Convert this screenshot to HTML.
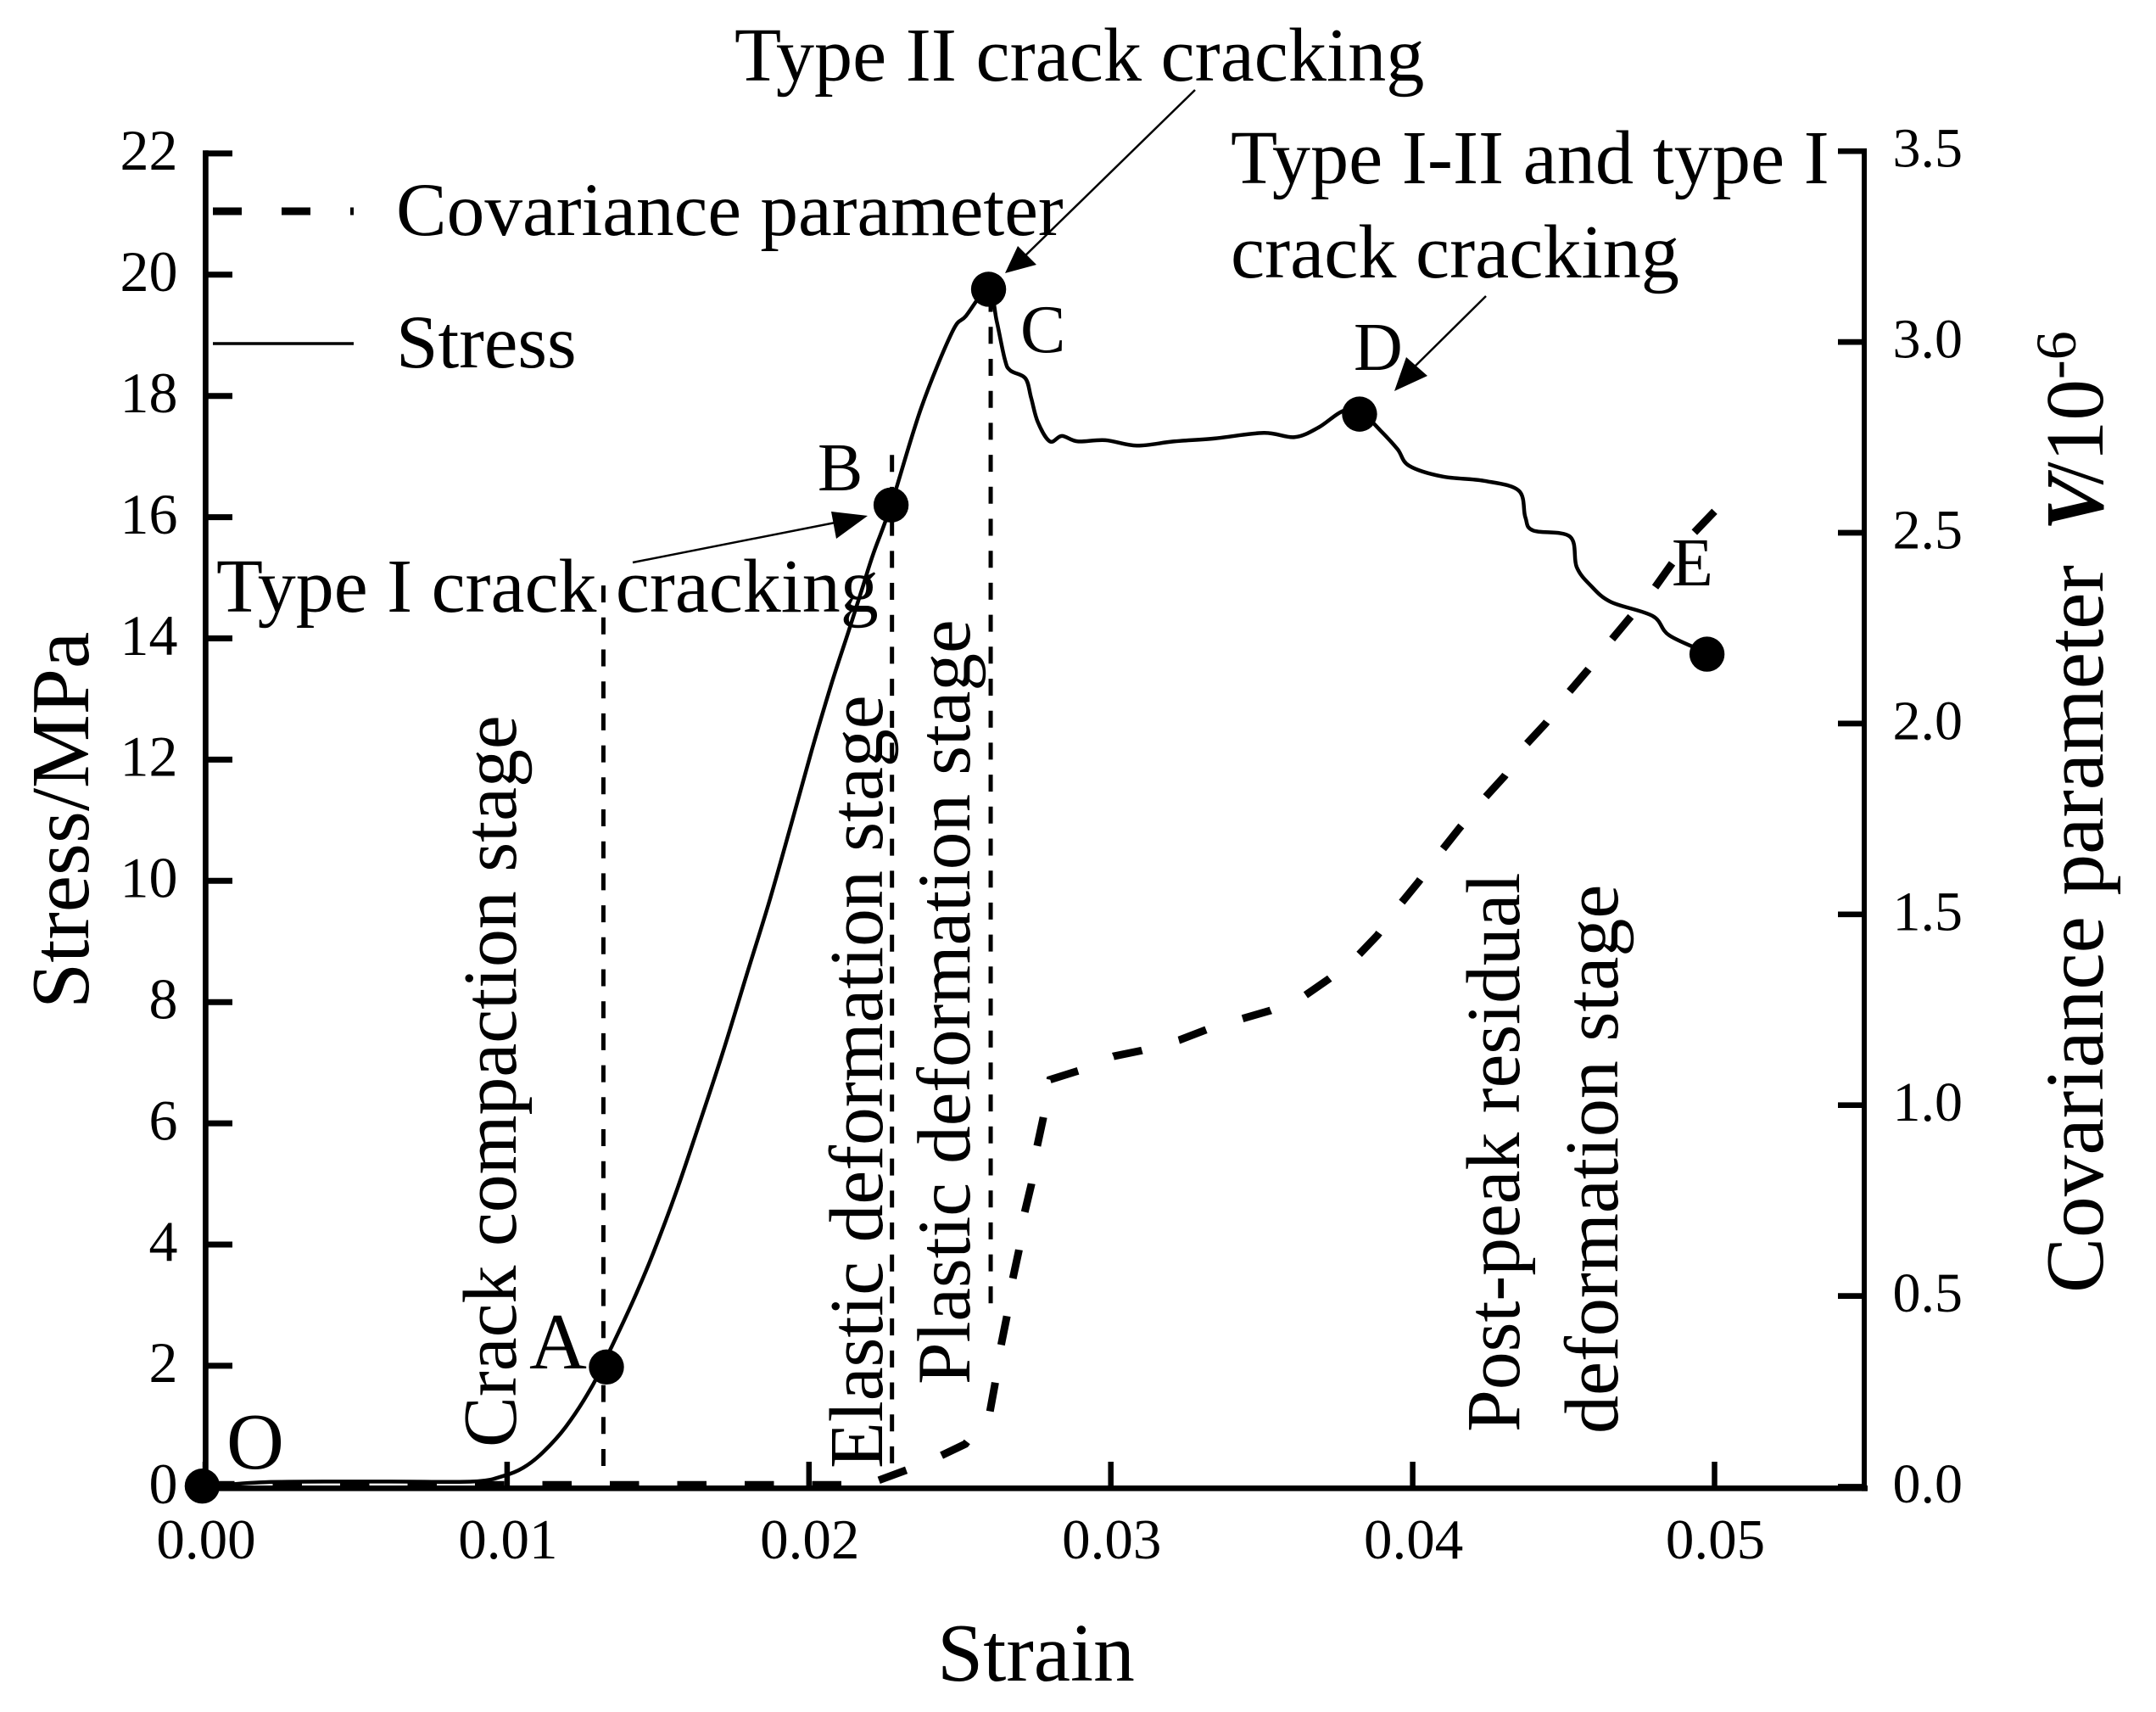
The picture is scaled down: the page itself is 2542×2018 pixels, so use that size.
<!DOCTYPE html>
<html lang="en">
<head>
<meta charset="utf-8">
<title>Stress and covariance parameter versus strain</title>
<style>
html,body{margin:0;padding:0;background:#fff;}
svg{display:block;}
text{font-family:"Liberation Serif",serif;fill:#000;}
</style>
</head>
<body>
<svg id="chart" xmlns="http://www.w3.org/2000/svg" width="2542" height="2018" viewBox="0 0 2542 2018">
  <rect width="2542" height="2018" fill="#fff"/>
  <g id="stages"></g>
  <g id="series"></g>
  <g id="axes"></g>

  <g>
    <line x1="251" y1="249" x2="417" y2="249" stroke="#000" stroke-width="9" stroke-dasharray="34,47"/>
    <text x="467" y="277" font-size="89.4">Covariance parameter</text>
    <line x1="251" y1="405" x2="417" y2="405" stroke="#000" stroke-width="3.5"/>
    <text x="467" y="433" font-size="89">Stress</text>
  </g>

  <g>
    <text x="866" y="95" font-size="90.3">Type II crack cracking</text>
    <text x="255" y="721" font-size="90">Type I crack cracking</text>
    <text x="1451" y="216" font-size="90.3">Type I-II and type I</text>
    <text x="1451" y="327" font-size="90.3">crack cracking</text>

    <line x1="746" y1="663" x2="1000" y2="613" stroke="#000" stroke-width="2.5"/>
    <polygon points="1023,608 980,603 986,635" fill="#000"/>
    <line x1="1409" y1="106" x2="1205" y2="305" stroke="#000" stroke-width="2.5"/>
    <polygon points="1185,322 1222,312 1200,290" fill="#000"/>
    <line x1="1752" y1="349" x2="1665" y2="435" stroke="#000" stroke-width="2.5"/>
    <polygon points="1644,461 1683,443 1658,421" fill="#000"/>

    <text x="267" y="1731" font-size="94">O</text>
    <text x="624" y="1613" font-size="94">A</text>
    <text x="964" y="578" font-size="80">B</text>
    <text x="1203" y="415" font-size="80">C</text>
    <text x="1596" y="436" font-size="80">D</text>
    <text x="1971" y="690" font-size="80">E</text>

    <text transform="translate(608,1706) rotate(-90)" font-size="89.8">Crack compaction stage</text>
    <text transform="translate(1040,1731) rotate(-90)" font-size="89.7">Elastic deformation stage</text>
    <text transform="translate(1143,1632) rotate(-90)" font-size="89.2">Plastic deformation stage</text>
    <text transform="translate(1791,1688) rotate(-90)" font-size="89.6">Post-peak residual</text>
    <text transform="translate(1907,1690) rotate(-90)" font-size="90">deformation stage</text>
  </g>

  <text x="1105" y="1981" font-size="97.5">Strain</text>
  <text transform="translate(104,1189) rotate(-90)" font-size="97.5">Stress/MPa</text>
  <text transform="translate(2479,1524) rotate(-90)" font-size="97.5">Covariance parameter <tspan dx="16" font-weight="bold" font-style="italic">V</tspan><tspan dx="-11">/</tspan>10<tspan dy="-32" font-size="68">-6</tspan></text>
</svg>
<script>
var strainTicks = [0, 0.01, 0.02, 0.03, 0.04, 0.05];
var strainTickLabels = ['0.00', '0.01', '0.02', '0.03', '0.04', '0.05'];
var stressTicks = [0, 2, 4, 6, 8, 10, 12, 14, 16, 18, 20, 22];
var covarianceTicks = [0, 0.5, 1, 1.5, 2, 2.5, 3, 3.5];
var covarianceTickLabels = ['0.0', '0.5', '1.0', '1.5', '2.0', '2.5', '3.0', '3.5'];

var stressStrain = [0, 0.002, 0.006, 0.00885, 0.00986, 0.01054, 0.01118, 0.01194, 0.01278, 0.01343, 0.01419, 0.01484, 0.01559, 0.01632, 0.01714, 0.01793, 0.01871, 0.01942, 0.02009, 0.02074, 0.0213, 0.02178, 0.02214, 0.02272, 0.02371, 0.02474, 0.0252, 0.02595, 0.02622, 0.02649, 0.02667, 0.02717, 0.02736, 0.02758, 0.02798, 0.02838, 0.0289, 0.02982, 0.03086, 0.0321, 0.03346, 0.03507, 0.03609, 0.03688, 0.03768, 0.03825, 0.03893, 0.0395, 0.03988, 0.04099, 0.04235, 0.04351, 0.04373, 0.04399, 0.04521, 0.04543, 0.0459, 0.04657, 0.04795, 0.0485, 0.04977];
var stressValues = [0, 0.08, 0.09, 0.09, 0.18, 0.32, 0.57, 0.99, 1.63, 2.28, 3.09, 3.86, 4.85, 5.92, 7.16, 8.44, 9.7, 10.95, 12.15, 13.24, 14.1, 14.85, 15.41, 16.2, 17.79, 19.05, 19.32, 19.77, 19.23, 18.6, 18.42, 18.29, 17.97, 17.57, 17.25, 17.34, 17.25, 17.27, 17.18, 17.25, 17.3, 17.39, 17.32, 17.48, 17.75, 17.75, 17.43, 17.12, 16.85, 16.67, 16.6, 16.44, 16, 15.78, 15.68, 15.18, 14.87, 14.6, 14.37, 14.05, 13.76];

var covarianceStrain = [0, 0.01, 0.02, 0.0218, 0.02231, 0.02324, 0.02439, 0.02518, 0.02599, 0.02616, 0.02636, 0.02655, 0.02675, 0.02695, 0.02714, 0.02737, 0.02756, 0.02776, 0.02799, 0.02892, 0.03009, 0.03101, 0.03228, 0.03317, 0.03442, 0.03529, 0.03643, 0.03723, 0.03814, 0.03883, 0.03957, 0.04019, 0.04092, 0.04156, 0.04235, 0.04304, 0.04373, 0.0444, 0.04513, 0.04582, 0.04657, 0.04722, 0.04801, 0.04857, 0.04931, 0.05];
var covarianceValues = [0.005, 0.005, 0.005, 0.005, 0.017, 0.044, 0.082, 0.112, 0.195, 0.268, 0.37, 0.444, 0.544, 0.618, 0.717, 0.793, 0.893, 0.966, 1.067, 1.09, 1.128, 1.143, 1.171, 1.198, 1.228, 1.248, 1.287, 1.331, 1.388, 1.445, 1.525, 1.585, 1.663, 1.727, 1.802, 1.862, 1.943, 2.0, 2.078, 2.142, 2.218, 2.28, 2.355, 2.417, 2.499, 2.556];

var keyPointStrain = [-0.0001, 0.01329, 0.02272, 0.02595, 0.03824, 0.04975];
var keyPointStress = [0.015, 1.98, 16.2, 19.76, 17.7, 13.74];
var keyPointNames = ['o', 'a', 'b', 'c', 'd', 'e'];

var stageStrain = [0.01319, 0.02275, 0.02602];
var stageTopStress = [14.93, 17.1, 19.5];
var stageBottomStress = [0.347, 0.39, 3.03];

var NS = 'http://www.w3.org/2000/svg';
function xScale(v) { return 242 + v * 35590; }
function yStress(v) { return 1752.8 - v * 71.45; }
function yCov(v) { return 1752.5 - v * 449.8; }

function make(tag, parent, attrs) {
  var el = document.createElementNS(NS, tag);
  for (var k in attrs) { el.setAttribute(k, attrs[k]); }
  parent.appendChild(el);
  return el;
}
function pathFrom(xs, ys, yFn) {
  var d = '';
  for (var i = 0; i < xs.length; i++) {
    d += (i ? 'L' : 'M') + xScale(xs[i]).toFixed(1) + ' ' + yFn(ys[i]).toFixed(1);
  }
  return d;
}
function smoothPathFrom(xs, ys, yFn) {
  var px = xs.map(xScale);
  var py = ys.map(yFn);
  var n = px.length;
  var d = 'M' + px[0].toFixed(1) + ' ' + py[0].toFixed(1);
  for (var i = 0; i < n - 1; i++) {
    var a = Math.max(i - 1, 0);
    var b = Math.min(i + 2, n - 1);
    var c1x = px[i] + (px[i + 1] - px[a]) / 6;
    var c1y = py[i] + (py[i + 1] - py[a]) / 6;
    var c2x = px[i + 1] - (px[b] - px[i]) / 6;
    var c2y = py[i + 1] - (py[b] - py[i]) / 6;
    d += 'C' + c1x.toFixed(1) + ' ' + c1y.toFixed(1) + ' ' + c2x.toFixed(1) + ' ' + c2y.toFixed(1) + ' ' + px[i + 1].toFixed(1) + ' ' + py[i + 1].toFixed(1);
  }
  return d;
}

var axes = document.getElementById('axes');
var series = document.getElementById('series');
var stages = document.getElementById('stages');

stageStrain.forEach(function (s, i) {
  var line = make('line', stages, {x1: xScale(s), x2: xScale(s), y1: yStress(stageBottomStress[i]), y2: yStress(stageTopStress[i]), stroke: '#000', 'stroke-width': 5, 'stroke-dasharray': '20,17.7'});
  
  
});

var covLine = make('path', series, {d: pathFrom(covarianceStrain, covarianceValues, yCov), fill: 'none', stroke: '#000', 'stroke-width': 9, 'stroke-dasharray': '34.5,45'});



var stressLine = make('path', series, {d: smoothPathFrom(stressStrain, stressValues, yStress), fill: 'none', stroke: '#000', 'stroke-width': 4.5, 'stroke-linejoin': 'round'});



keyPointStrain.forEach(function (s, i) {
  var dot = make('circle', series, {cx: xScale(s), cy: yStress(keyPointStress[i]), r: 20.7, fill: '#000'});
  
  
});

var leftAxis = make('line', axes, {x1: 242.4, x2: 242.4, y1: 177.3, y2: 1757.6, stroke: '#000', 'stroke-width': 6.7});


var bottomAxis = make('line', axes, {x1: 239, x2: 2202, y1: 1754.3, y2: 1754.3, stroke: '#000', 'stroke-width': 6.7});


var rightAxis = make('line', axes, {x1: 2198, x2: 2198, y1: 175, y2: 1757.6, stroke: '#000', 'stroke-width': 6});



stressTicks.forEach(function (v) {
  var y = yStress(v);
  var tick = make('line', axes, {x1: 242, x2: 274, y1: y, y2: y, stroke: '#000', 'stroke-width': 7});
  
  
  var label = make('text', axes, {x: 209.5, y: y + 19.3, 'font-size': 68, 'text-anchor': 'end'});
  label.textContent = String(v);
  
  
});

covarianceTicks.forEach(function (v, i) {
  var y = yCov(v);
  var tick = make('line', axes, {x1: 2167, x2: 2201, y1: y, y2: y, stroke: '#000', 'stroke-width': 6.7});
  
  
  var label = make('text', axes, {x: 2231.5, y: y + 18.5, 'font-size': 66});
  label.textContent = covarianceTickLabels[i];
  
  
});

strainTicks.forEach(function (v, i) {
  var x = xScale(v);
  var tick = make('line', axes, {x1: x, x2: x, y1: 1723, y2: 1754, stroke: '#000', 'stroke-width': 6.5});
  
  
  var label = make('text', axes, {x: x + 1, y: 1837, 'font-size': 67, 'text-anchor': 'middle'});
  label.textContent = strainTickLabels[i];
  
  
});
</script>
</body>
</html>
